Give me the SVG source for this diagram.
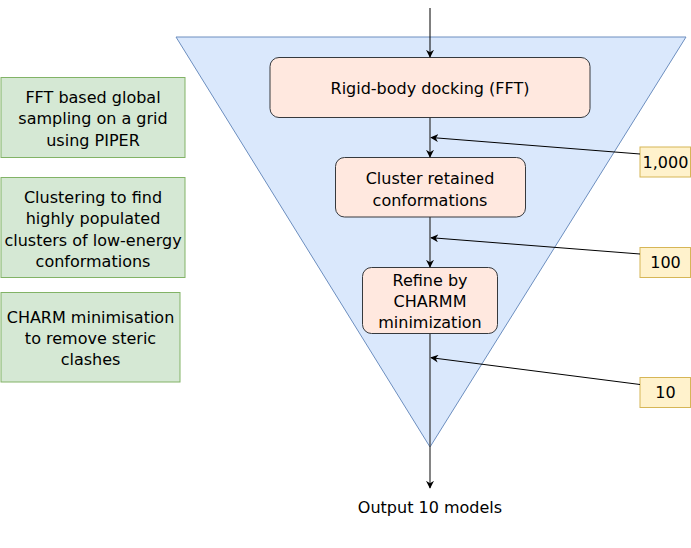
<svg xmlns="http://www.w3.org/2000/svg" width="691" height="548" viewBox="0 0 691 548">
<defs>
<style>
text{font-family:"DejaVu Sans","Liberation Sans",sans-serif;font-size:16px;fill:#000;text-anchor:middle}
.green{fill:#d5e8d4;stroke:#82b366;stroke-width:1}
.step{fill:#ffe8df;stroke:#36393d;stroke-width:1}
.num{fill:#fff2cc;stroke:#d6b656;stroke-width:1}
.flow{stroke:#333;stroke-width:1.2;fill:none}
.thin{stroke:#000;stroke-width:1;fill:none}
</style>
<marker id="ah" viewBox="0 0 10 10" refX="9" refY="5" markerWidth="8" markerHeight="8" markerUnits="userSpaceOnUse" orient="auto">
<path d="M0,0 L10,5 L0,10 L3,5 Z" fill="#000"/>
</marker>
</defs>
<g id="funnel"><polygon points="176,37 686,37 430,447" fill="#dae8fc" stroke="#6c8ebf" stroke-width="1"/></g>
<g id="desc1"><rect class="green" x="1" y="77.5" width="184" height="80"/><text x="93" y="102.5">FFT based global</text><text x="93" y="124">sampling on a grid</text><text x="93" y="145.5">using PIPER</text></g>
<g id="desc2"><rect class="green" x="1" y="177.5" width="184" height="100"/><text x="93" y="202.5">Clustering to find</text><text x="93" y="224">highly populated</text><text x="93" y="245.5">clusters of low-energy</text><text x="93" y="266.5">conformations</text></g>
<g id="desc3"><rect class="green" x="1" y="292.5" width="179" height="89.5"/><text x="90.5" y="322.5">CHARM minimisation</text><text x="90.5" y="344">to remove steric</text><text x="90.5" y="364.5">clashes</text></g>
<g id="dock"><rect class="step" x="270" y="57.5" width="320" height="60" rx="9"/><text x="430" y="94">Rigid-body docking (FFT)</text></g>
<g id="cluster"><rect class="step" x="335.5" y="157.5" width="190" height="59.5" rx="9"/><text x="430" y="184">Cluster retained</text><text x="430" y="205.5">conformations</text></g>
<g id="refine"><rect class="step" x="362.5" y="267.5" width="135" height="66" rx="9"/><text x="430" y="286">Refine by</text><text x="430" y="306.5">CHARMM</text><text x="430" y="327.5">minimization</text></g>
<g id="n1000"><rect class="num" x="640" y="147" width="50.5" height="30"/><text x="665.5" y="167.5">1,000</text></g>
<g id="n100"><rect class="num" x="640" y="247.5" width="50.5" height="30"/><text x="665.5" y="268">100</text></g>
<g id="n10"><rect class="num" x="640" y="377.5" width="50.5" height="30"/><text x="665.5" y="398">10</text></g>
<g id="output"><text x="430" y="513">Output 10 models</text></g>
<g id="connectors">
<line class="thin" x1="430" y1="8" x2="430" y2="57" marker-end="url(#ah)"/>
<line class="flow" x1="430" y1="117.5" x2="430" y2="157" marker-end="url(#ah)"/>
<line class="flow" x1="430" y1="217" x2="430" y2="267" marker-end="url(#ah)"/>
<line class="flow" x1="430" y1="333.5" x2="430" y2="488" marker-end="url(#ah)"/>
<line class="thin" x1="640" y1="154" x2="431" y2="137.5" marker-end="url(#ah)"/>
<line class="thin" x1="640" y1="254" x2="431" y2="237.7" marker-end="url(#ah)"/>
<line class="thin" x1="640" y1="384.5" x2="431" y2="357.7" marker-end="url(#ah)"/>
</g>
</svg>
